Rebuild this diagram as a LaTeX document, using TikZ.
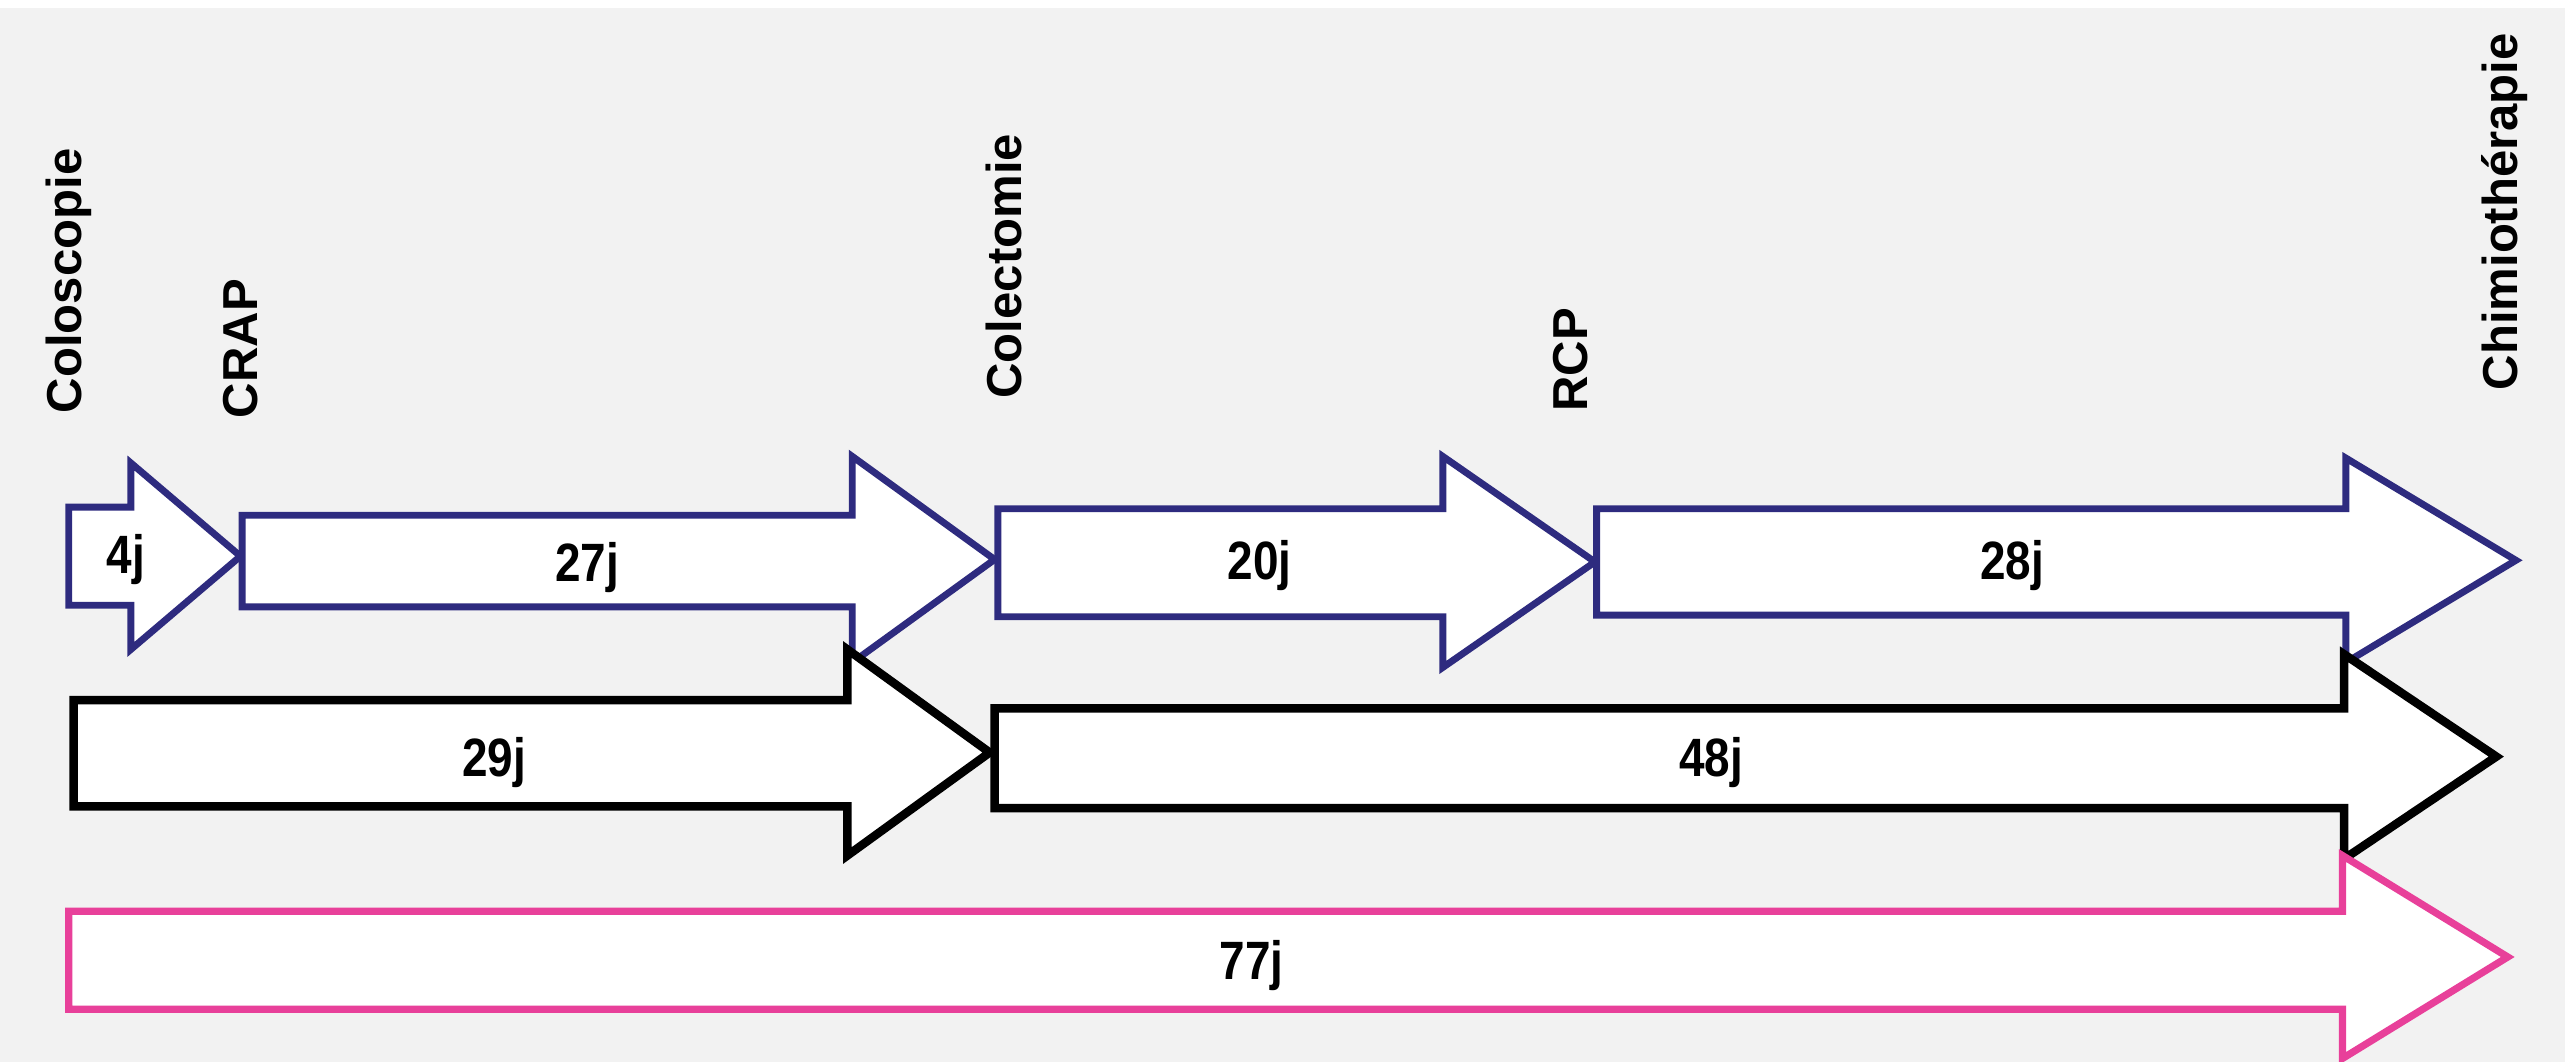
\documentclass[tikz,border=0pt]{standalone}
\usepackage{fontspec}
\setmainfont{Liberation Sans}
\newfontfamily\numfont[FakeStretch=0.85]{Liberation Sans}
\definecolor{navy}{RGB}{46,43,127}
\definecolor{pinkc}{RGB}{232,64,154}
\definecolor{bggray}{RGB}{242,242,242}
\newcommand\fatarrow[8]{%
  \draw[#1] (#2,#3) -- (#5,#3) -- (#5,#6) -- (#8,{(#6+#7)/2}) -- (#5,#7) -- (#5,#4) -- (#2,#4) -- cycle;}
\tikzset{
  navyarrow/.style={draw=navy, fill=white, line width=2.1pt, miter limit=20},
  blackarrow/.style={draw=black, fill=white, line width=2.6pt, miter limit=20},
  pinkarrow/.style={draw=pinkc, fill=white, line width=2.2pt, miter limit=20},
  daylabel/.style={font=\numfont\bfseries\fontsize{16.5}{18}\selectfont, inner sep=0pt},
  steplabel/.style={font=\bfseries\fontsize{15}{17}\selectfont, rotate=90, anchor=west, inner sep=0pt}
}
\begin{document}
\begin{tikzpicture}[x=0.5pt,y=-0.5pt]
\useasboundingbox (0,0) rectangle (1568,649);
\fill[bggray] (0,0) rectangle (1568,649);
\fill[white] (0,0) rectangle (1568,5);
% row 1
\fatarrow{navyarrow}{42}{310}{370}{80}{283}{397}{147}
\fatarrow{navyarrow}{148}{315}{371}{521}{279}{405}{608}
\fatarrow{navyarrow}{610}{311}{377}{882}{279}{408}{975}
\fatarrow{navyarrow}{976}{311}{376}{1434}{280}{405}{1538}
% row 2
\fatarrow{blackarrow}{45}{428}{493}{518}{397}{523}{605}
\fatarrow{blackarrow}{608}{433}{494}{1433}{400}{525}{1526}
% row 3
\fatarrow{pinkarrow}{42}{557}{617}{1432}{523}{647}{1533}
% day labels
\node[daylabel] (d4) at (77,342) {4j};
\node[daylabel] (d27) at (359,347) {27j};
\node[daylabel] (d20) at (770,346) {20j};
\node[daylabel] (d28) at (1230,346) {28j};
\node[daylabel] (d29) at (302,466) {29j};
\node[daylabel] (d48) at (1046,466) {48j};
\node[daylabel] (d77) at (765,590) {77j};
% step labels
\node[steplabel] (colo) at (42,253) {Coloscopie};
\node[steplabel] (crap) at (147,256) {CRAP};
\node[steplabel] (colec) at (614,244) {Colectomie};
\node[steplabel] (rcp) at (960,252) {RCP};
\node[steplabel] (chimio) at (1531,239) {Chimiothérapie};
\end{tikzpicture}
\end{document}
